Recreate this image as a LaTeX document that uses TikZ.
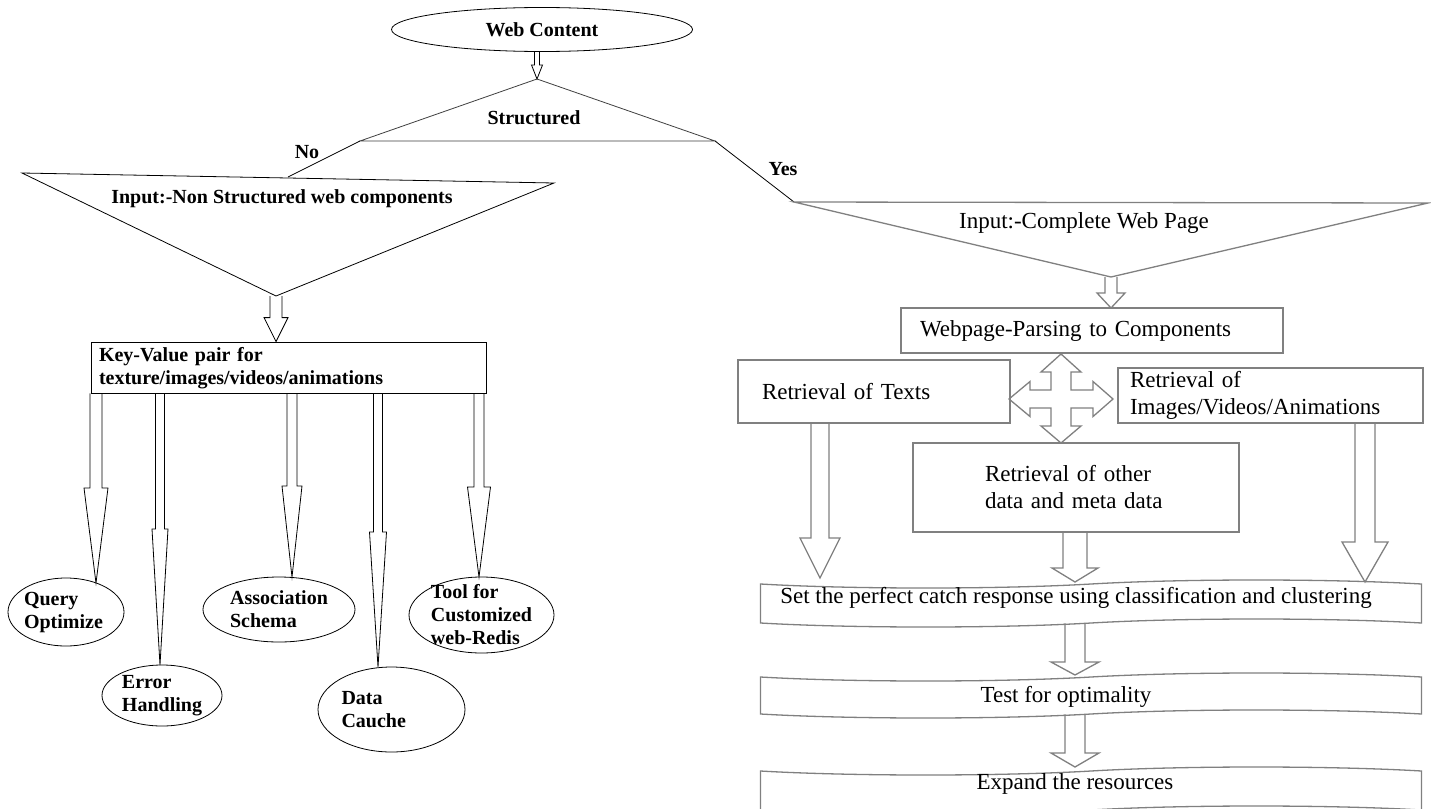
\documentclass[tikz,border=0pt]{standalone}
\usepackage{fontspec}
\setmainfont{Liberation Serif}
\usetikzlibrary{calc,positioning,shapes.geometric,shapes.symbols}

\tikzstyle{lft}=[font=\fontsize{20}{23}\selectfont\bfseries]
\tikzstyle{rgt}=[font=\fontsize{23}{27}\selectfont]
\tikzstyle{leaf}=[ellipse,draw,line width=0.8pt,lft,align=left,inner sep=0pt]
\tikzstyle{gbox}=[rectangle,draw=gray,line width=1.3pt,rgt,align=left,inner sep=0pt]
\tikzstyle{tapebox}=[tape,draw=gray,line width=1.3pt,tape bend height=8pt,minimum width=661pt,minimum height=47pt,inner sep=0pt]
\tikzstyle{farrow}=[draw=black,line width=0.8pt,line join=miter]
\tikzstyle{garrow}=[draw=gray,line width=1.3pt,line join=miter]
\tikzstyle{gline}=[draw=gray,line width=1.3pt]

% hollow arrow pointing down: style, from, to, shaft half width, head half width, head length
\newcommand{\fatarrow}[6]{%
  \draw[#1] let \p1=(#2), \p2=(#3) in
    (\x1-#4pt,\y1) -- (\x1-#4pt,\y2+#6pt) -- (\x1-#5pt,\y2+#6pt) -- (\x1,\y2)
    -- (\x1+#5pt,\y2+#6pt) -- (\x1+#4pt,\y2+#6pt) -- (\x1+#4pt,\y1);}

\begin{document}
\begin{tikzpicture}[x=1pt,y=-1pt,line width=0.8pt]
\useasboundingbox[fill=white] (0,0) rectangle (1431,808);

% decision
\node[ellipse,draw,lft,minimum width=301pt,minimum height=44pt,inner sep=0pt] (web) at (542,29.5) {Web Content};
\coordinate (s-top) at (537,79);
\coordinate (s-l) at (360,141);
\coordinate (s-r) at (715,141);
\draw[draw=black!75] (s-top) -- (s-l) -- (s-r) -- cycle;
\node[lft] (struct) at (534,118) {Structured};
\fatarrow{farrow}{web.south -| s-top}{s-top}{2.5}{5.5}{14}

% no branch
\coordinate (n-l) at (22,173);
\coordinate (n-j) at (288,177);
\coordinate (n-r) at (554,183);
\coordinate (n-b) at (276,296);
\draw (s-l) -- (n-j);
\draw (n-l) -- (n-r) -- (n-b) -- cycle;
\node[lft] (no) at (307,152) {No};
\node[lft] (nonstr) at (282,199) {Input:-Non Structured web components};

\node[draw,lft,align=left,minimum width=395pt,minimum height=51pt,text width=379pt,inner xsep=8pt,inner ysep=0pt] (kv) at (288.5,367.5) {\strut Key-Value pair for\\texture/images/videos/animations};
\fatarrow{farrow}{n-b}{kv.north -| n-b}{6}{12}{24}

\node[leaf,minimum width=116pt,minimum height=68pt,text width=84pt,inner sep=-2pt] (query) at (66,612) {Query\\Optimize};
\node[leaf,minimum width=120pt,minimum height=61pt] (error) at (162,695.5) {Error\\Handling};
\node[leaf,minimum width=152pt,minimum height=65pt] (assoc) at (279,609.5) {Association\\Schema};
\node[leaf,minimum width=147pt,minimum height=85pt,text width=100pt] (cache) at (391.5,709.5) {Data\\Cauche\\[6pt]};
\node[leaf,minimum width=145pt,minimum height=76pt,inner sep=-7pt] (tool) at (481.5,615) {Tool for\\Customized\\web-Redis};

\coordinate (q-tip) at (96,583);
\coordinate (e-tip) at (160,665);
\coordinate (a-tip) at (292,577);
\coordinate (d-tip) at (378,667);
\coordinate (t-tip) at (479,577);
\fatarrow{farrow}{kv.south -| q-tip}{q-tip}{6}{12}{95}
\fatarrow{farrow}{kv.south -| e-tip}{e-tip}{4.5}{8}{136}
\fatarrow{farrow}{kv.south -| a-tip}{a-tip}{5}{10}{91}
\fatarrow{farrow}{kv.south -| d-tip}{d-tip}{4.5}{8.5}{135}
\fatarrow{farrow}{kv.south -| t-tip}{t-tip}{5}{11.5}{90}

% yes branch
\coordinate (c-l) at (794,202);
\coordinate (c-r) at (1428,203);
\coordinate (c-b) at (1111,277);
\draw (s-r) -- (c-l);
\draw[gline] (c-l) -- (c-r) -- (c-b) -- cycle;
\node[lft] (yes) at (783,169) {Yes};
\node[rgt] (complete) at (1084,223) {Input:-Complete Web Page};

\node[gbox,minimum width=382pt,minimum height=45pt,text width=344pt,inner xsep=19pt] (parse) at (1092,330.5) {Webpage-Parsing to Components};
\coordinate (p-tip) at (1111,308);
\fatarrow{garrow}{c-b}{p-tip}{6}{14}{15}

\node[gbox,minimum width=272pt,minimum height=63pt,text width=224pt,inner xsep=24pt] (texts) at (874,391.5) {Retrieval of Texts};
\node[gbox,minimum width=305pt,minimum height=55pt,text width=281pt,inner xsep=12pt] (media) at (1270.5,395.5) {Retrieval of\\Images/Videos/Animations};
\node[gbox,minimum width=326pt,minimum height=89pt,text width=182pt,inner xsep=72pt] (meta) at (1076,487.5) {Retrieval of other\\data and meta data};

\coordinate (cross) at (1061,399);
\draw[gline,line join=miter,shift={(cross)}] (0,-45) -- (20,-27) -- (10,-27) -- (10,-9) -- (32,-9) -- (32,-17.5) -- (52,0)
  -- (32,17.5) -- (32,9) -- (10,9) -- (10,27) -- (20,27) -- (0,44) -- (-20,27) -- (-10,27) -- (-10,9)
  -- (-31,9) -- (-31,17.5) -- (-52,0) -- (-31,-17.5) -- (-31,-9) -- (-10,-9) -- (-10,-27) -- (-20,-27) -- cycle;

\node[tapebox] (catch) at (1091,603.5) {};
\node[rgt] (catch-t) at (1076,598) {Set the perfect catch response using classification and clustering};
\node[tapebox,minimum height=45pt] (test) at (1091,695.5) {};
\node[rgt] (test-t) at (1066,697) {Test for optimality};
\node[tapebox] (expand) at (1091,790.5) {};
\node[rgt] (expand-t) at (1075,784) {Expand the resources};

\coordinate (tx-tip) at (820,578);
\coordinate (mt-tip) at (1075,582);
\coordinate (md-tip) at (1365,582);
\coordinate (ts-tip) at (1075,675);
\coordinate (ex-tip) at (1075,767);
\fatarrow{garrow}{texts.south -| tx-tip}{tx-tip}{9}{20}{40}
\fatarrow{garrow}{meta.south -| mt-tip}{mt-tip}{12}{23}{14}
\fatarrow{garrow}{media.south -| md-tip}{md-tip}{10}{23}{40}
\fatarrow{garrow}{catch.south -| ts-tip}{ts-tip}{10}{24}{13}
\fatarrow{garrow}{test.south -| ex-tip}{ex-tip}{10}{24}{14}
\end{tikzpicture}
\end{document}
